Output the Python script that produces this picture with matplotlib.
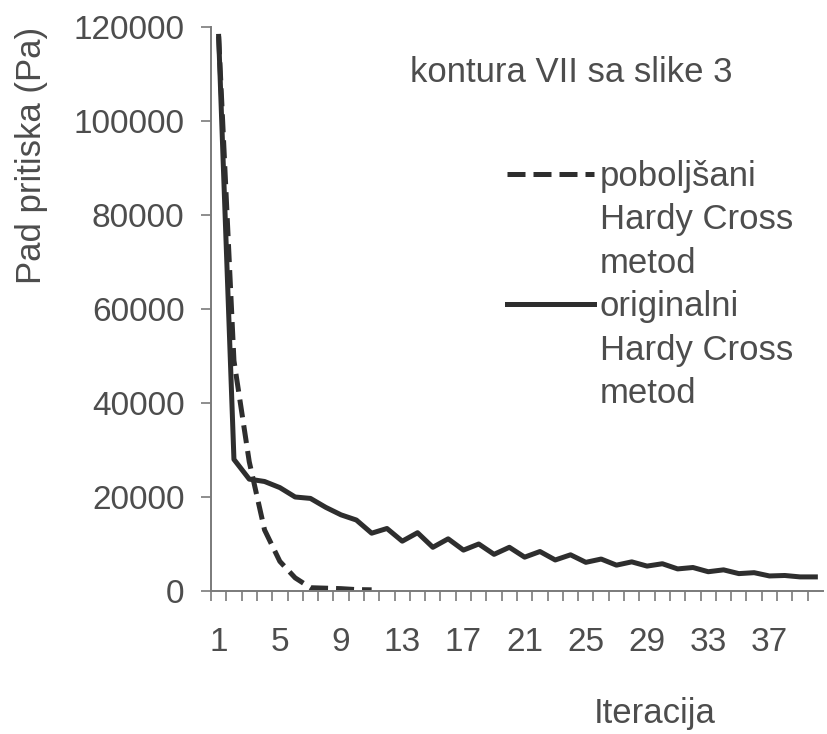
import matplotlib
matplotlib.use("Agg")
import matplotlib.pyplot as plt
from matplotlib.lines import Line2D

# ---- data ----
iterations = list(range(1, 41))
original = [118000, 28000, 23800, 23300, 22000, 20000, 19700, 17800, 16200, 15100,
            12300, 13300, 10600, 12400, 9300, 11100, 8700, 10000, 7800, 9300,
            7200, 8400, 6600, 7700, 6100, 6800, 5500, 6200, 5300, 5800,
            4700, 5000, 4100, 4500, 3700, 3900, 3200, 3300, 3000, 3000]
improved_iter = list(range(1, 12))
improved = [118000, 49000, 27500, 13000, 6300, 2800, 700, 600, 500, 300, 250]
xtick_labels = [str(v) for v in range(1, 38, 4)]
yticks = [0, 20000, 40000, 60000, 80000, 100000, 120000]

plt.rcParams['font.family'] = ['Liberation Sans', 'DejaVu Sans']
txt = '#4d4d4d'
line_c = '#2e2e2e'
fs_tick = 24
fs_text = 25
dash = (0, (3.6, 1.6))

fig = plt.figure(figsize=(8.28, 7.34), dpi=100)
ax = fig.add_axes([211/828, 1-591/734, (823-211)/828, (591-27)/734])

ax.plot(iterations, original, color=line_c, lw=3.6, solid_joinstyle='round')
ax.plot(improved_iter, improved, color=line_c, lw=3.6, ls=dash)

ax.set_xlim(0.5, 40.5)
ax.set_ylim(0, 120000)
ax.set_yticks(yticks)
ax.set_yticklabels([str(v) for v in yticks], fontsize=fs_tick, color=txt)
ax.set_xticks(range(1, 38, 4))
ax.set_xticklabels(xtick_labels, fontsize=fs_tick, color=txt)
ax.tick_params(axis='x', length=0, pad=26)
ax.set_xticks([i + 0.5 for i in range(0, 40)], minor=True)
ax.tick_params(axis='x', which='minor', length=7, width=1.2, color='#7a7a7a', direction='out')
ax.tick_params(axis='y', length=7, width=1.2, color='#7a7a7a', pad=12)

for s in ['top', 'right']:
    ax.spines[s].set_visible(False)
for s in ['left', 'bottom']:
    ax.spines[s].set_color('#7a7a7a')
    ax.spines[s].set_linewidth(1.4)

# legend (one line per row, key on first row of each entry)
blank = Line2D([], [], color='none')
h_dash = Line2D([], [], color=line_c, lw=3.6, ls=dash)
h_solid = Line2D([], [], color=line_c, lw=3.6)
handles = [h_dash, blank, blank, h_solid, blank, blank]
labels = ['poboljšani', 'Hardy Cross', 'metod', 'originalni', 'Hardy Cross', 'metod']
leg = fig.legend(handles, labels, loc='upper left', bbox_to_anchor=(507/828, 1-160/734),
                 frameon=False, fontsize=fs_text, handlelength=2.5, handletextpad=0.17,
                 labelspacing=0.30, borderpad=0, borderaxespad=0)
for t in leg.get_texts():
    t.set_color(txt)

fig.text(410/828, 1-72/734, 'kontura VII sa slike 3', fontsize=fs_text, color=txt,
         ha='left', va='center')
fig.text(32/828, 1-155/734, 'Pad pritiska (Pa)', fontsize=fs_text, color=txt,
         rotation=90, ha='center', va='center')
fig.text(655/828, 1-714/734, 'Iteracija', fontsize=fs_text, color=txt,
         ha='center', va='center')

fig.savefig('out.png', dpi=100)
